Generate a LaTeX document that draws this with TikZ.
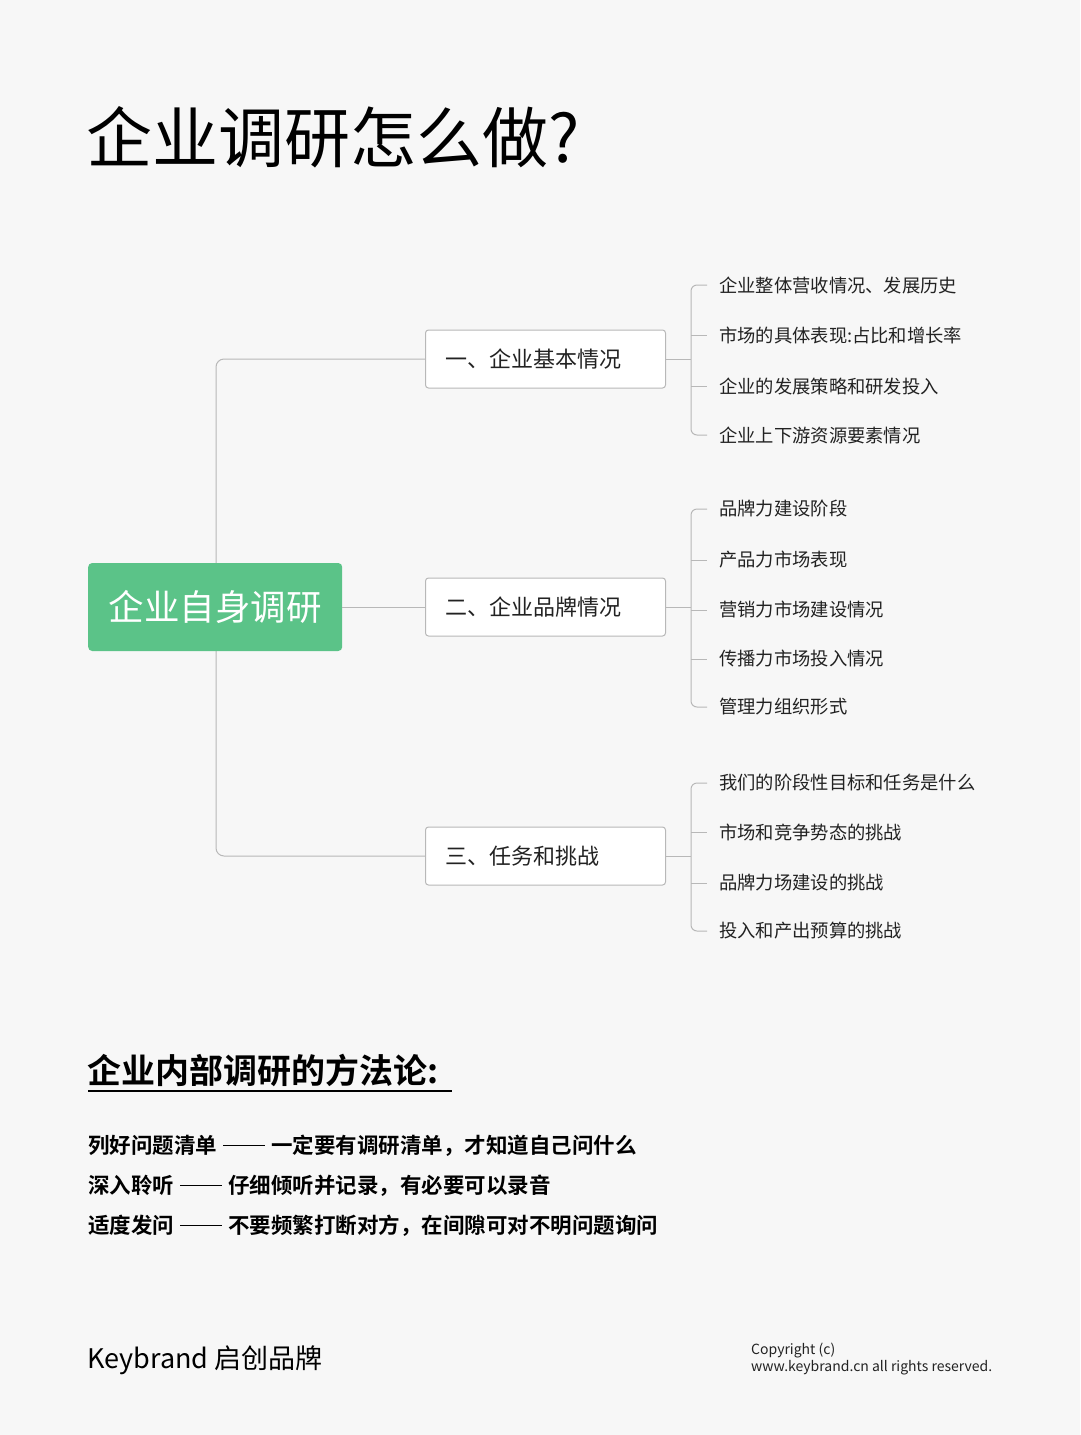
\documentclass[tikz,border=0pt]{standalone}
\usepackage{fontspec}
\setmainfont{Noto Sans CJK SC}
\newfontfamily\cjkb{Noto Sans CJK SC Bold}
\definecolor{bg}{HTML}{F7F7F7}
\definecolor{grn}{HTML}{5BC388}
\definecolor{ln}{HTML}{B8B8B8}
\definecolor{tx}{HTML}{222222}
\tikzset{
 sub/.style={draw=ln,line width=1pt,fill=white,rounded corners=3pt,minimum width=240pt,minimum height=58pt,anchor=west,inner sep=0pt,font=\fontsize{22}{24}\selectfont,text=tx,align=left,text width=200pt},
 leaf/.style={anchor=west,inner sep=0pt,font=\fontsize{18.3}{20}\selectfont,text=tx},
 con/.style={draw=ln,line width=1pt},
 meth/.style={anchor=west,inner sep=0pt,font=\cjkb\fontsize{21.5}{23}\selectfont,text=black},
}
\newcommand\mdash{\hspace{6pt}\rule[0.35em]{42pt}{1pt}\hspace{6pt}}
\begin{document}
\begin{tikzpicture}[x=1pt,y=-1pt]
\fill[bg] (0,0) rectangle (1080,1435);
\useasboundingbox (0,0) rectangle (1080,1435);
\node[anchor=west,inner sep=0pt,font=\fontsize{66}{68}\selectfont,text=black] (title) at (86,137) {企业调研怎么做?};
\coordinate (t1) at (216,359);
\coordinate (t3) at (216,856);
\node[sub] (s1) at (425,359) {一、企业基本情况};
\node[sub] (s2) at (425,607) {二、企业品牌情况};
\node[sub] (s3) at (425,856) {三、任务和挑战};
\draw[con,rounded corners=8pt] (s1.west) -- (t1) -- (t3) -- (s3.west);
\node[fill=grn,rounded corners=4pt,minimum width=254pt,minimum height=88pt,anchor=west,text=white,font=\fontsize{35.5}{37}\selectfont] (root) at (88,607) {企业自身调研};
\draw[con] (root.east) -- (s2.west);
\node[leaf] (la1) at (719,285) {企业整体营收情况、发展历史};
\node[leaf] (la2) at (719,335) {市场的具体表现:占比和增长率};
\node[leaf] (la3) at (719,386) {企业的发展策略和研发投入};
\node[leaf] (la4) at (719,435) {企业上下游资源要素情况};
\node[leaf] (lb1) at (719,509) {品牌力建设阶段};
\node[leaf] (lb2) at (719,560) {产品力市场表现};
\node[leaf] (lb3) at (719,610) {营销力市场建设情况};
\node[leaf] (lb4) at (719,659) {传播力市场投入情况};
\node[leaf] (lb5) at (719,707) {管理力组织形式};
\node[leaf] (lc1) at (719,783) {我们的阶段性目标和任务是什么};
\node[leaf] (lc2) at (719,832) {市场和竞争势态的挑战};
\node[leaf] (lc3) at (719,883) {品牌力场建设的挑战};
\node[leaf] (lc4) at (719,931) {投入和产出预算的挑战};
\draw[con] (s1.east) -- (691,359);
\draw[con] (s2.east) -- (691,607);
\draw[con] (s3.east) -- (691,856);
\draw[con,rounded corners=6pt] (707,285) -- (691,285) -- (691,435) -- (707,435);
\draw[con] (691,335) -- (707,335) (691,386) -- (707,386);
\draw[con,rounded corners=6pt] (707,509) -- (691,509) -- (691,707) -- (707,707);
\draw[con] (691,560) -- (707,560) (691,610) -- (707,610) (691,659) -- (707,659);
\draw[con,rounded corners=6pt] (707,783) -- (691,783) -- (691,931) -- (707,931);
\draw[con] (691,832) -- (707,832) (691,883) -- (707,883);
\node[anchor=west,inner sep=0pt,font=\cjkb\fontsize{34}{36}\selectfont,text=black] (h) at (87,1070) {企业内部调研的方法论:};
\draw[line width=1.5pt] (88,1091) -- (452,1091);
\node[meth] (m1) at (88,1146) {列好问题清单\mdash 一定要有调研清单，才知道自己问什么};
\node[meth] (m2) at (88,1186) {深入聆听\mdash 仔细倾听并记录，有必要可以录音};
\node[meth] (m3) at (88,1226) {适度发问\mdash 不要频繁打断对方，在间隙可对不明问题询问};
\node[anchor=west,inner sep=0pt,font=\fontsize{27}{29}\selectfont,text=black] (kb) at (87,1360) {Keybrand 启创品牌};
\node[anchor=north west,inner sep=0pt,align=left,font=\fontsize{14}{17}\selectfont,text=tx] (cp) at (751,1343) {Copyright (c)\\www.keybrand.cn all rights reserved.};
\end{tikzpicture}
\end{document}
